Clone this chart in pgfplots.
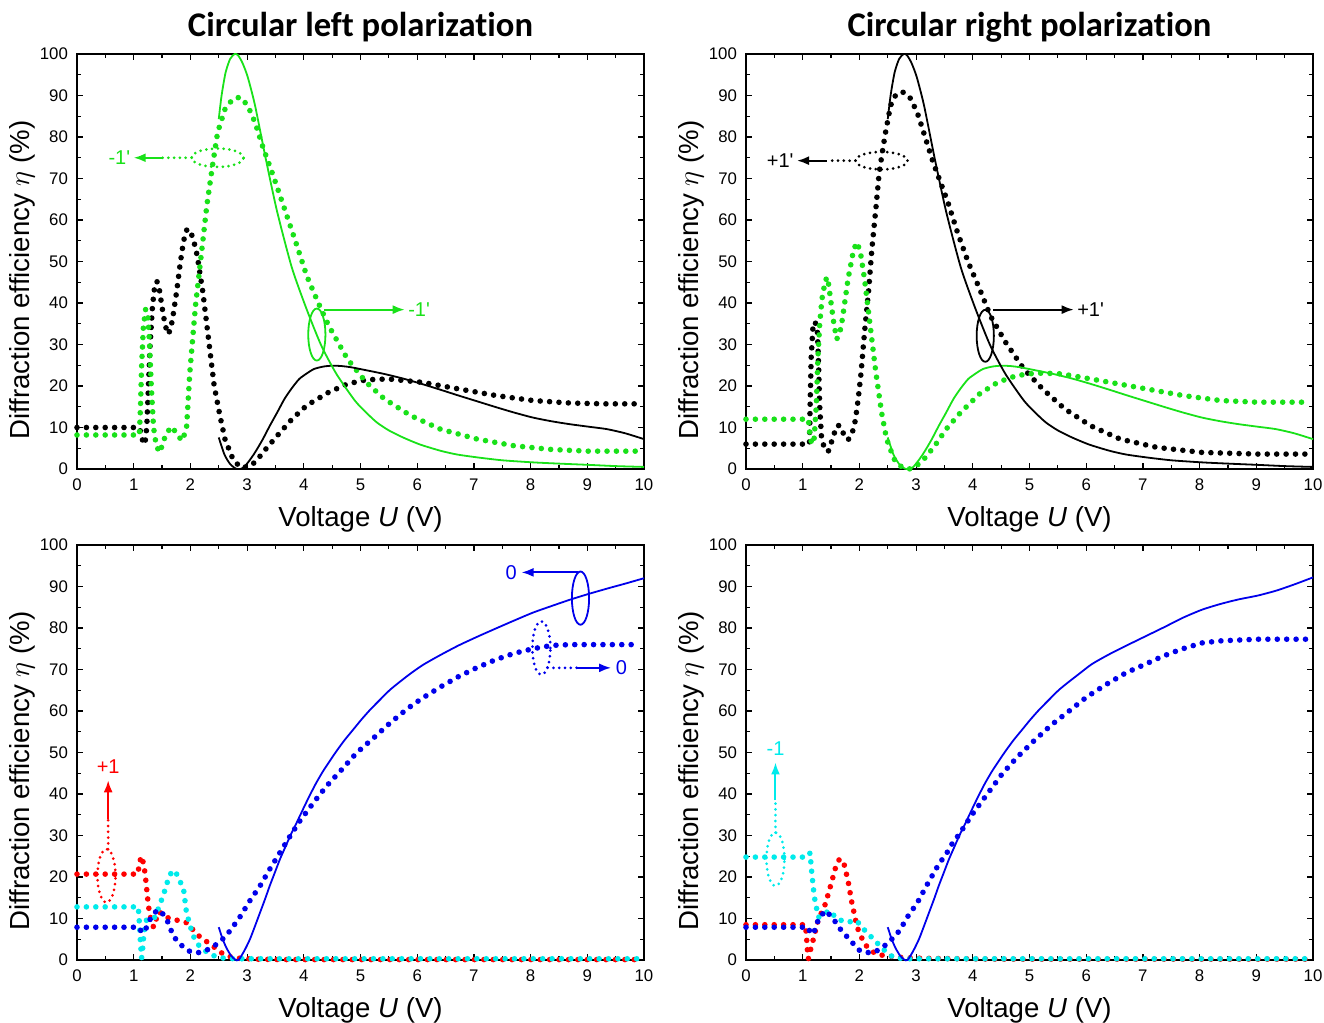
\documentclass[border=0pt]{standalone}
\usepackage{fontspec}
\setmainfont{Liberation Sans}
\newfontfamily\titlefont[Ligatures=NoCommon]{Carlito}
\usepackage{pgfplots}
\pgfplotsset{compat=1.18}
\usetikzlibrary{arrows.meta}

\definecolor{gr}{RGB}{25,225,25}
\definecolor{bl}{RGB}{0,0,235}
\definecolor{rd}{RGB}{255,0,0}
\definecolor{cy}{RGB}{0,235,235}

\tikzset{
  dots/.style={line width=2.8pt, line cap=round, dash pattern=on 0pt off 4.7pt},
  sdots/.style={line width=1.5pt, line cap=round, dash pattern=on 0pt off 2.9pt},
  thy/.style={line width=0.9pt, smooth, tension=0.4},
  arr/.style={line width=1pt, -{Latex[length=6pt,width=4.5pt]}},
  ann/.style={font=\fontsize{10}{11}\selectfont, inner sep=1pt},
}
\pgfplotsset{
  panel/.style={
    scale only axis, width=283.5pt, height=207.5pt,
    xmin=0, xmax=10, ymin=0, ymax=100,
    xtick={0,1,...,10}, ytick={0,10,...,100},
    minor x tick num=1, minor y tick num=1,
    tick align=inside,
    major tick length=3pt, minor tick length=1.8pt,
    tick style={black, line width=0.6pt},
    axis line style={line width=0.8pt},
    tick label style={font=\fontsize{8.4}{9}\selectfont},
    xticklabel style={yshift=-1.5pt},
    yticklabel style={xshift=-1pt},
    /pgf/number format/assume math mode=true,
    xlabel={Voltage \textit{U} (V)},
    ylabel={Diffraction efficiency $\eta$ (\%)},
    label style={font=\fontsize{13.8}{16}\selectfont},
    xlabel style={at={(axis description cs:0.5,0)}, anchor=center, yshift=-25pt},
    ylabel style={at={(axis description cs:-0.097,0.455)}, anchor=center},
    title style={font=\titlefont\bfseries\fontsize{17.3}{20}\selectfont,
                 at={(0.5,1)}, anchor=base, yshift=3pt},
    clip=false,
  },
}

% theory curves shared by the two upper panels
\pgfplotstableread{
x y
2.50 84.3
2.55 90.0
2.62 95.5
2.70 98.8
2.78 100
2.84 99.7
2.92 97.8
3.01 94.5
3.14 87.6
3.33 74.7
3.53 62.0
3.79 48.5
4.05 38.5
4.31 29.7
4.58 22.8
4.90 16.5
5.10 13.6
5.29 11.2
5.50 9.3
5.75 7.6
6.05 5.9
6.41 4.4
6.70 3.5
7.06 2.8
7.50 2.1
8.04 1.6
8.50 1.3
9.02 1.0
9.50 0.7
10.0 0.5
}\peak
\pgfplotstableread{
x y
2.50 7.6
2.60 3.5
2.70 1.2
2.80 0.1
2.88 0.0
2.95 0.5
3.05 2.2
3.14 4.0
3.27 7.0
3.40 10.4
3.53 13.6
3.66 16.9
3.79 19.5
3.92 21.7
4.05 23.0
4.18 24.1
4.35 24.7
4.51 24.9
4.67 24.8
4.84 24.5
5.10 23.8
5.42 22.9
5.75 21.8
6.08 20.5
6.41 19.1
6.73 17.7
7.06 16.3
7.39 14.9
7.71 13.6
8.04 12.4
8.37 11.5
8.69 10.8
9.02 10.2
9.35 9.6
9.67 8.6
10.0 7.2
}\hump

\begin{document}
\begin{tikzpicture}
\path[use as bounding box] (0,0) rectangle (662pt,-511.5pt);

% ---------------- top left: circular left polarization
\begin{axis}[panel, at={(38.5pt,-27pt)}, anchor=north west,
  title={Circular left polarization}]
  \addplot[black, dots] coordinates {
    (0,10) (0.5,10) (1.0,10) (1.1,10) (1.14,8) (1.17,6) (1.2,6.2) (1.23,10)
    (1.26,20) (1.29,30) (1.33,39) (1.37,44) (1.41,45.2) (1.45,43.5) (1.5,39)
    (1.55,35) (1.6,32.5) (1.65,33.5) (1.7,37.5) (1.76,43) (1.82,49.5)
    (1.88,55) (1.94,57.8) (1.99,57.5) (2.05,55.5) (2.12,51.4) (2.17,47)
    (2.22,42.6) (2.32,31.3) (2.42,20) (2.52,12.9) (2.61,7.2) (2.75,2.4)
    (2.88,0.4) (3.0,0.5) (3.14,1.6) (3.33,4.8) (3.53,8) (3.79,12) (4.05,15.3)
    (4.44,18.5) (4.77,20.5) (5.1,21.5) (5.49,21.7) (6.08,20.9) (6.73,19.3)
    (7.39,17.7) (8.04,16.5) (8.69,15.9) (9.3,15.7) (9.9,15.7)
  };
  \addplot[gr, dots] coordinates {
    (0,8.2) (0.5,8.2) (1.0,8.2) (1.1,8.2) (1.12,15) (1.14,25) (1.17,34)
    (1.21,38.5) (1.25,37) (1.28,30) (1.31,20) (1.35,10) (1.4,5.5) (1.46,4)
    (1.51,6) (1.57,8.5) (1.67,10.2) (1.76,8.5) (1.85,6.8) (1.93,9.5)
    (1.99,23.3) (2.09,39.4) (2.19,51.4) (2.29,63.5) (2.39,73.1) (2.48,81.1)
    (2.61,86.7) (2.75,89.2) (2.88,89.6) (3.01,87.6) (3.14,83.5) (3.27,77.9)
    (3.46,70.7) (3.66,62.7) (3.86,54.6) (4.05,46.6) (4.25,40.2) (4.44,34.5)
    (4.77,26.5) (5.1,20.9) (5.42,16.9) (5.88,12.9) (6.41,9.6) (7.06,7.2)
    (7.71,5.6) (8.37,4.7) (9.02,4.3) (9.9,4.3)
  };
  \addplot[black, thy] table {\hump};
  \addplot[gr, thy] table {\peak};
  % labels
  \draw[gr, sdots] (axis cs:2.48,75) ellipse [x radius=13pt, y radius=4.6pt];
  \draw[gr, sdots] (axis cs:2.02,75) -- (axis cs:1.5,75);
  \draw[gr, arr] (axis cs:1.5,75) -- (axis cs:1.0,75);
  \node[gr, ann, anchor=east] at (axis cs:0.98,75) {-1\textquotesingle};
  \draw[gr, line width=0.9pt] (axis cs:4.23,32.4) ellipse [x radius=4.3pt, y radius=13pt];
  \draw[gr, arr] (axis cs:4.36,38.4) -- (axis cs:5.78,38.4);
  \node[gr, ann, anchor=west] at (axis cs:5.8,38.4) {-1\textquotesingle};
\end{axis}

% ---------------- top right: circular right polarization
\begin{axis}[panel, at={(373pt,-27pt)}, anchor=north west,
  title={Circular right polarization}]
  \addplot[black, dots] coordinates {
    (0,6) (0.5,6) (1.0,6) (1.12,6) (1.13,15) (1.15,27) (1.18,34) (1.22,35.5)
    (1.26,33) (1.28,25) (1.3,15) (1.33,8) (1.38,5) (1.45,4.2) (1.52,7)
    (1.6,10.4) (1.65,10.5) (1.72,8.5) (1.8,7) (1.87,8.5) (1.93,11.8)
    (1.98,17) (2.03,23.3) (2.09,32.9) (2.16,42.6) (2.22,53) (2.29,62.7)
    (2.35,71.5) (2.45,80.3) (2.55,87.6) (2.65,90.4) (2.78,90.8) (2.91,89.2)
    (3.04,85.1) (3.17,79.5) (3.3,73.9) (3.43,69.1) (3.56,64.3) (3.73,57)
    (3.92,49.8) (4.12,43.4) (4.31,36.9) (4.58,30.5) (4.9,24.1) (5.23,19.3)
    (5.62,14.5) (6.08,10.4) (6.6,7.2) (7.25,5.2) (8.04,4) (9.02,3.6) (9.9,3.6)
  };
  \addplot[gr, dots] coordinates {
    (0,12) (0.5,12) (1.0,12) (1.1,12) (1.13,8) (1.16,6) (1.2,7) (1.24,15.3)
    (1.27,27.3) (1.3,35) (1.34,41) (1.4,45.5) (1.44,46.2) (1.5,40) (1.55,35)
    (1.6,31.3) (1.65,32.5) (1.7,36.1) (1.8,45.8) (1.9,53) (1.96,54.6)
    (2.02,52) (2.09,45.8) (2.19,34.5) (2.29,23.3) (2.39,13.7) (2.48,7.2)
    (2.61,2.4) (2.75,0.4) (2.88,0) (3.01,0.8) (3.14,2.4) (3.33,5.6)
    (3.53,9.6) (3.79,13.7) (4.12,18.1) (4.44,20.9) (4.77,22.5) (5.1,23.1)
    (5.5,23) (5.75,22.5) (6.41,20.9) (7.06,19.3) (7.71,17.7) (8.37,16.5)
    (9.02,16.1) (9.9,16.1)
  };
  \addplot[gr, thy] table {\hump};
  \addplot[black, thy] table {\peak};
  \draw[black, sdots] (axis cs:2.39,74.3) ellipse [x radius=13pt, y radius=4.4pt];
  \draw[black, sdots] (axis cs:1.93,74.3) -- (axis cs:1.42,74.3);
  \draw[black, arr] (axis cs:1.42,74.3) -- (axis cs:0.9,74.3);
  \node[black, ann, anchor=east] at (axis cs:0.88,74.3) {+1\textquotesingle};
  \draw[black, line width=0.9pt] (axis cs:4.22,32.1) ellipse [x radius=4.3pt, y radius=13pt];
  \draw[black, arr] (axis cs:4.36,38.4) -- (axis cs:5.78,38.4);
  \node[black, ann, anchor=west] at (axis cs:5.8,38.4) {+1\textquotesingle};
\end{axis}

% ---------------- bottom left
\begin{axis}[panel, at={(38.5pt,-272.5pt)}, anchor=north west]
  \addplot[rd, dots] coordinates {
    (0,20.7) (0.5,20.7) (1.0,20.7) (1.07,20.7) (1.1,23) (1.13,25) (1.16,24)
    (1.2,21) (1.23,17) (1.26,13) (1.3,10) (1.35,7.9) (1.39,9.5) (1.43,11.5)
    (1.5,11.3) (1.58,10.3) (1.7,9.7) (1.82,9.5) (1.93,9) (1.99,8.2)
    (2.11,6.2) (2.23,5) (2.35,3.8) (2.47,2.6) (2.58,1.4) (2.7,0.8)
    (2.88,0.4) (3.14,0.2) (3.6,0.1) (4.2,0.1) (9.9,0.1)
  };
  \addplot[cy, dots] coordinates {
    (0,12.8) (0.5,12.8) (1.0,12.8) (1.08,12.8) (1.1,9) (1.12,4) (1.14,0.5)
    (1.16,3) (1.18,6.5) (1.23,9.9) (1.3,10) (1.38,10.3) (1.45,13) (1.52,15.5)
    (1.61,19.5) (1.67,21.3) (1.73,21.5) (1.8,19.5) (1.88,17) (1.93,11.5)
    (1.99,8.5) (2.05,5.8) (2.15,3.5) (2.29,1.9) (2.42,1) (2.6,0.4) (2.8,0.3)
    (3.2,0.3) (9.9,0.3)
  };
  \addplot[bl, dots] coordinates {
    (0,7.9) (0.5,7.9) (1.0,7.9) (1.1,7.9) (1.14,6.6) (1.2,7) (1.26,9)
    (1.32,10.6) (1.4,11.8) (1.46,12) (1.52,11) (1.58,9.9) (1.64,7.8) (1.7,5.8)
    (1.79,4.2) (1.88,3.1) (1.97,2.2) (2.05,1.8) (2.15,1.8) (2.29,2.4)
    (2.4,3.2) (2.52,4.4) (2.64,6) (2.76,8.2) (2.87,10.3) (3.05,14.3)
    (3.23,17.9) (3.4,21.9) (3.58,25.9) (3.76,29.9) (3.93,33.5) (4.17,37.9)
    (4.4,41.9) (4.67,45.9) (4.93,49.9) (5.23,53.5) (5.52,57.1) (5.84,60.7)
    (6.08,63) (6.41,65.8) (6.73,68.3) (7.06,70.5) (7.39,72.4) (7.71,73.9)
    (8.04,75) (8.37,75.8) (8.7,76) (9.02,76) (9.9,76)
  };
  \addplot[bl, thy] coordinates {
    (2.5,7.9) (2.57,5) (2.64,2.8) (2.72,1) (2.79,0.1) (2.85,0) (2.95,2.2)
    (3.05,5) (3.14,8.2) (3.23,11.5) (3.32,14.8) (3.4,17.9) (3.49,21.1)
    (3.58,24.3) (3.67,27.1) (3.76,29.9) (3.85,32.4) (3.93,34.7) (4.02,37.3)
    (4.11,39.8) (4.22,42.7) (4.34,45.5) (4.46,48) (4.58,50.4) (4.72,53)
    (4.87,55.5) (5.02,58) (5.17,60.3) (5.35,62.8) (5.52,65.1) (5.7,67.1)
    (5.87,68.9) (6.1,71.1) (6.41,73.5) (6.73,75.8) (7.06,77.9) (7.39,79.9)
    (7.71,81.8) (8.04,83.7) (8.37,85.3) (8.69,86.8) (9.02,88.2) (9.35,89.5)
    (9.67,90.7) (10,92)
  };
  \draw[rd, sdots] (axis cs:0.52,20.3) ellipse [x radius=4.5pt, y radius=13.3pt];
  \draw[rd, sdots] (axis cs:0.55,26.7) -- (axis cs:0.55,34);
  \draw[rd, arr] (axis cs:0.55,34) -- (axis cs:0.55,43.3);
  \node[rd, ann, anchor=south] at (axis cs:0.55,44.3) {+1};
  \draw[bl, line width=0.9pt] (axis cs:8.88,87.2) ellipse [x radius=4.3pt, y radius=13.3pt];
  \draw[bl, arr] (axis cs:8.84,93.4) -- (axis cs:7.84,93.4);
  \node[bl, ann, anchor=east] at (axis cs:7.8,93.4) {0};
  \draw[bl, sdots] (axis cs:8.19,75.2) ellipse [x radius=4.5pt, y radius=13.3pt];
  \draw[bl, sdots] (axis cs:8.3,70.4) -- (axis cs:8.82,70.4);
  \draw[bl, arr] (axis cs:8.82,70.4) -- (axis cs:9.42,70.4);
  \node[bl, ann, anchor=west] at (axis cs:9.46,70.4) {0};
\end{axis}

% ---------------- bottom right
\begin{axis}[panel, at={(373pt,-272.5pt)}, anchor=north west]
  \addplot[rd, dots] coordinates {
    (0,8.5) (0.5,8.5) (1.0,8.5) (1.05,8.5) (1.07,5) (1.09,1) (1.1,0.3)
    (1.13,2) (1.18,4.6) (1.27,9.5) (1.4,13.5) (1.5,18.3) (1.58,22.3)
    (1.65,24.4) (1.73,23.1) (1.8,19.1) (1.86,14.3) (1.96,7.9) (2.09,3.8)
    (2.29,1.4) (2.48,1) (2.75,0.6) (3.14,0.4) (3.79,0.3) (4.5,0.2) (9.9,0.2)
  };
  \addplot[cy, dots] coordinates {
    (0,24.8) (0.5,24.8) (1.0,24.8) (1.08,24.8) (1.13,25.8) (1.16,21)
    (1.19,17) (1.22,13.9) (1.28,10.3) (1.36,11.1) (1.48,11.9) (1.6,9.9)
    (1.78,9.1) (1.95,9.5) (2.07,7.5) (2.25,5) (2.42,2.6) (2.6,0.6) (2.8,0.3)
    (9.9,0.3)
  };
  \addplot[bl, dots] coordinates {
    (0,7.9) (0.5,7.9) (1.0,7.9) (1.1,7.9) (1.13,6.6) (1.19,6.3) (1.28,9.9)
    (1.4,11.9) (1.52,10.3) (1.66,7.5) (1.84,4.7) (2.01,2.2) (2.15,1.8)
    (2.25,1.8) (2.36,2.6) (2.48,3.8) (2.66,6.2) (2.76,8.3) (2.88,11.1)
    (3.01,13.5) (3.2,18.3) (3.4,23.1) (3.53,25.5) (3.63,27.9) (3.76,30.3)
    (3.99,35.1) (4.12,37.5) (4.25,39.9) (4.51,44.7) (4.77,48.7) (5.07,52.7)
    (5.39,56.7) (5.69,59.9) (6.01,63.4) (6.34,66.3) (6.7,69.2) (7.03,71.2)
    (7.35,73.2) (7.68,74.9) (8.04,76.4) (8.37,76.9) (9.02,77.3) (9.9,77.3)
  };
  \addplot[bl, thy] coordinates {
    (2.5,7.9) (2.57,5) (2.64,2.8) (2.72,1) (2.79,0.1) (2.85,0) (2.95,2.2)
    (3.05,5) (3.14,8.2) (3.23,11.5) (3.32,14.8) (3.4,17.9) (3.49,21.1)
    (3.58,24.3) (3.67,27.1) (3.76,29.9) (3.85,32.4) (3.93,34.7) (4.02,37.3)
    (4.11,39.8) (4.22,42.7) (4.34,45.5) (4.46,48) (4.58,50.4) (4.72,53)
    (4.87,55.5) (5.02,58) (5.17,60.3) (5.35,62.8) (5.52,65.1) (5.7,67.1)
    (5.87,68.9) (6.1,71.3) (6.41,73.7) (6.73,75.9) (7.06,78.1) (7.39,80.3)
    (7.71,82.5) (8.04,84.4) (8.37,85.8) (8.69,86.9) (9.02,87.8) (9.35,89)
    (9.67,90.5) (10,92.2)
  };
  \draw[cy, sdots] (axis cs:0.52,24.3) ellipse [x radius=4.5pt, y radius=13.3pt];
  \draw[cy, sdots] (axis cs:0.52,30.7) -- (axis cs:0.52,38.5);
  \draw[cy, arr] (axis cs:0.52,38.5) -- (axis cs:0.52,47.6);
  \node[cy, ann, anchor=south] at (axis cs:0.52,48.6) {-1};
\end{axis}
\end{tikzpicture}
\end{document}
